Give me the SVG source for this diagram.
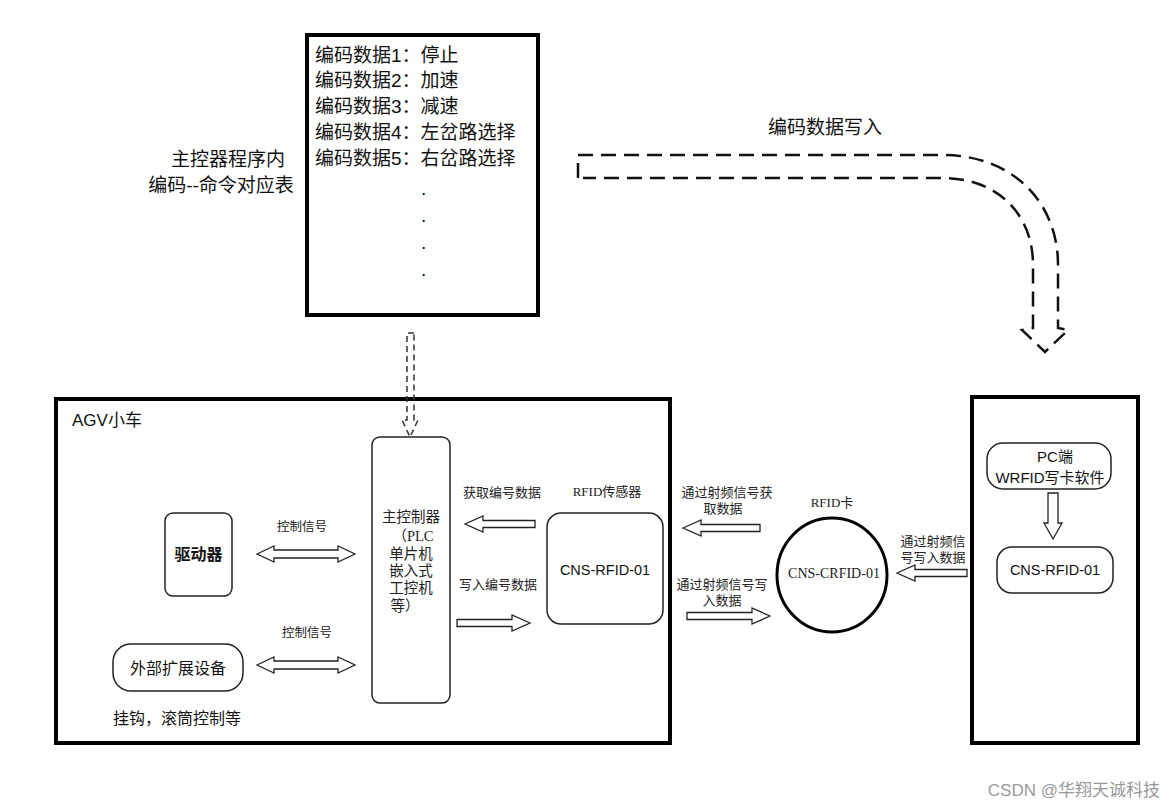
<svg xmlns="http://www.w3.org/2000/svg" width="1176" height="809" viewBox="0 0 1176 809">
<style>
.sans{font-family:"Liberation Sans","Noto Sans CJK SC",sans-serif;fill:#111}
.serif{font-family:"Liberation Serif","Noto Sans CJK SC",serif;fill:#222}
.frame{fill:#fff;stroke:#000;stroke-width:4}
.node{fill:#fff;stroke:#222;stroke-width:1.5}
.blk{fill:#fff;stroke:#222;stroke-width:1.3;stroke-linejoin:miter}
.dash{fill:none;stroke:#111;stroke-width:2.5;stroke-dasharray:15 8}
.dash2{fill:none;stroke:#333;stroke-width:1.5;stroke-dasharray:6 4}
</style>
<rect width="1176" height="809" fill="#fff"/>

<g id="table">
<rect class="frame" x="307" y="35" width="231" height="280"/>
<g class="sans" font-size="19">
<text x="315" y="62">编码数据1：停止</text>
<text x="315" y="87">编码数据2：加速</text>
<text x="315" y="113">编码数据3：减速</text>
<text x="315" y="139">编码数据4：左岔路选择</text>
<text x="315" y="165">编码数据5：右岔路选择</text>
</g>
<g class="sans" font-size="19">
<text x="421" y="195">.</text>
<text x="421" y="222">.</text>
<text x="421" y="249">.</text>
<text x="421" y="276">.</text>
</g>
</g>

<g id="table-label" class="sans" font-size="19" text-anchor="middle">
<text x="228" y="166">主控器程序内</text>
<text x="221" y="192">编码--命令对应表</text>
</g>

<g id="agv">
<rect class="frame" x="56" y="399" width="614" height="344"/>
<text class="sans" x="72" y="426" font-size="17">AGV小车</text>
</g>

<g id="pc-frame">
<rect class="frame" x="972" y="397" width="166" height="346"/>
</g>

<g id="driver">
<rect class="node" x="165" y="513" width="67" height="83" rx="8"/>
<text class="sans" x="198.5" y="560" font-size="16" font-weight="bold" text-anchor="middle">驱动器</text>
</g>

<g id="ext">
<rect class="node" x="113" y="644" width="130" height="47" rx="18"/>
<text class="sans" x="178" y="674" font-size="16" text-anchor="middle">外部扩展设备</text>
<text class="sans" x="113" y="724" font-size="16">挂钩，滚筒控制等</text>
</g>

<g id="controller">
<rect class="node" x="372" y="437" width="78" height="266" rx="8"/>
<g class="serif" font-size="14.5" text-anchor="middle">
<text x="411" y="522">主控制器</text>
<text x="413" y="541">（PLC</text>
<text x="411" y="559">单片机</text>
<text x="411" y="576">嵌入式</text>
<text x="411" y="593">工控机</text>
<text x="405" y="611">等）</text>
</g>
</g>

<g id="sensor">
<rect class="node" x="547" y="513" width="116" height="111" rx="14"/>
<text class="serif" x="607" y="496" font-size="13" text-anchor="middle">RFID传感器</text>
<text class="sans" x="605" y="575" font-size="14.5" text-anchor="middle">CNS-RFID-01</text>
</g>

<g id="card">
<ellipse cx="832" cy="575" rx="55" ry="57" fill="#fff" stroke="#000" stroke-width="3"/>
<text class="serif" x="832" y="507" font-size="13" text-anchor="middle">RFID卡</text>
<text class="serif" x="834" y="578" font-size="14" text-anchor="middle">CNS-CRFID-01</text>
</g>

<g id="pc">
<rect class="node" x="987" y="443" width="124" height="46" rx="16"/>
<g class="sans" font-size="15" text-anchor="middle">
<text x="1055" y="462">PC端</text>
<text x="1050" y="483">WRFID写卡软件</text>
</g>
</g>

<g id="writer">
<rect class="node" x="997" y="547" width="116" height="46" rx="15"/>
<text class="sans" x="1055" y="575" font-size="14.5" text-anchor="middle">CNS-RFID-01</text>
</g>

<g id="connectors">
<path class="dash" d="M578,178 L578,155 L943,155 C1010,155 1058,200 1058,265 L1058,328 L1068,330 L1045,352 L1022,330 L1033,328 L1033,265 C1033,212 995,178 943,178 L583,178"/>
<path class="dash2" d="M414,333 L407,333 L407,420 L402,420 L410,437 L418,420 L414,420 L414,333"/>
<polygon class="blk" points="257,554 274,546 274,550 338,550 338,546 355,554 338,562 338,558 274,558 274,562"/>
<polygon class="blk" points="257,665 274,657 274,661 338,661 338,657 355,665 338,673 338,669 274,669 274,673"/>
<polygon class="blk" points="465,524 483,516 483,520.5 535,520.5 535,527.5 483,527.5 483,532"/>
<polygon class="blk" points="530,623 512,615 512,619.5 457,619.5 457,626.5 512,626.5 512,631"/>
<polygon class="blk" points="683,528 701,520 701,524.5 760,524.5 760,531.5 701,531.5 701,536"/>
<polygon class="blk" points="770,616 752,608 752,612.5 687,612.5 687,619.5 752,619.5 752,624"/>
<polygon class="blk" points="897,573 915,565 915,569.5 967,569.5 967,576.5 915,576.5 915,581"/>
<polygon class="blk" points="1048,493 1058,493 1058,523 1062,523 1053,539 1044,523 1048,523"/>
</g>

<g id="labels" class="serif" font-size="12.5" text-anchor="middle">
<text x="302" y="531">控制信号</text>
<text x="307" y="637">控制信号</text>
<text x="502" y="497" font-size="13">获取编号数据</text>
<text x="498" y="589" font-size="13">写入编号数据</text>
<text x="727" y="497" font-size="13">通过射频信号获</text>
<text x="723" y="513" font-size="13">取数据</text>
<text x="722" y="589" font-size="13">通过射频信号写</text>
<text x="722" y="605" font-size="13">入数据</text>
<text x="933" y="546" font-size="13">通过射频信</text>
<text x="933" y="562" font-size="13">号写入数据</text>
</g>

<g id="title" class="sans" font-size="19" text-anchor="middle">
<text x="825" y="134">编码数据写入</text>
</g>

<text x="1160" y="796" font-family="Liberation Sans,Noto Sans CJK SC,sans-serif" font-size="17" fill="#999" text-anchor="end">CSDN @华翔天诚科技</text>
</svg>
